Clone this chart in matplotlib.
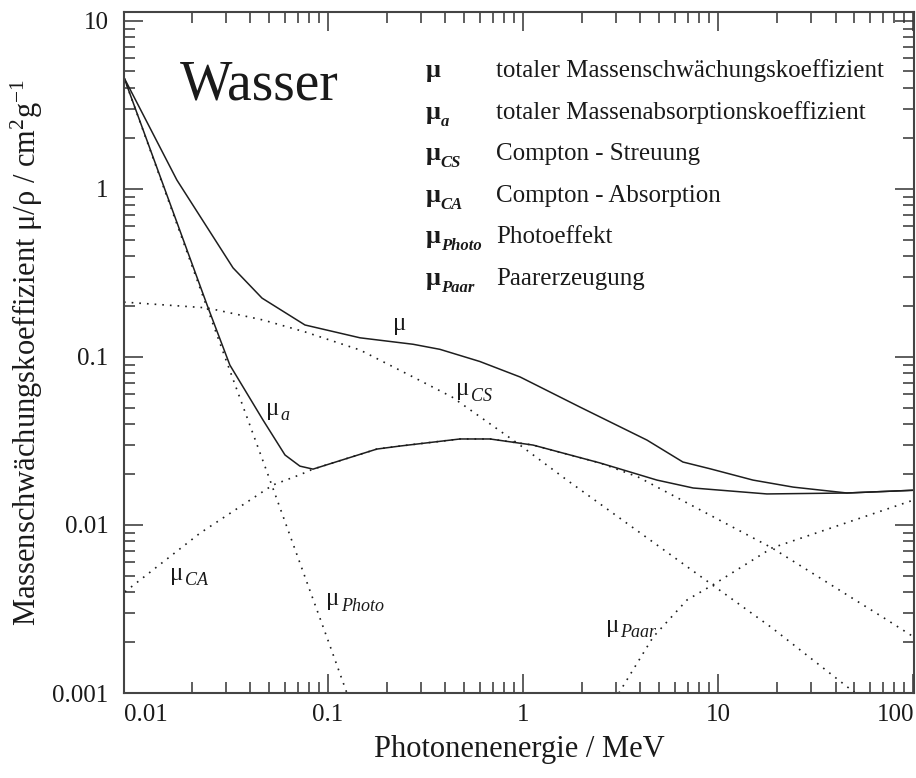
import numpy as np
import matplotlib
matplotlib.use("Agg")
import matplotlib.pyplot as plt
import matplotlib.transforms as mtrans
from matplotlib.ticker import FixedLocator, LogLocator, NullFormatter

plt.rcParams['font.family'] = ['Liberation Serif', 'DejaVu Serif']
plt.rcParams['mathtext.fontset'] = 'custom'
plt.rcParams['mathtext.rm'] = 'Liberation Serif'
plt.rcParams['mathtext.it'] = 'Liberation Serif:italic'
plt.rcParams['mathtext.bf'] = 'Liberation Serif:bold'
plt.rcParams['mathtext.default'] = 'rm'

# ---------------- data ----------------
E_mu = [0.009, 0.0168, 0.0326, 0.0459, 0.0762, 0.146, 0.273, 0.375, 0.6, 0.966,
        1.96, 4.32, 6.6, 9.1, 15.1, 24.3, 45.8, 101]
mu_total = [4.6, 1.13, 0.339, 0.224, 0.155, 0.130, 0.119, 0.111, 0.094, 0.076,
            0.0503, 0.032, 0.0237, 0.0216, 0.0185, 0.0168, 0.0155, 0.0161]

E_a = [0.009, 0.0243, 0.0314, 0.0464, 0.0602, 0.0718, 0.0838, 0.178, 0.234, 0.475,
       0.677, 1.125, 2.48, 4.86, 7.45, 17.8, 45.8, 101]
mu_a = [4.6, 0.196, 0.0895, 0.0422, 0.0261, 0.0224, 0.0215, 0.0283, 0.0295, 0.0325,
        0.0325, 0.0299, 0.0234, 0.0185, 0.0166, 0.0153, 0.0155, 0.0161]

E_cs = [0.009, 0.0239, 0.0464, 0.0762, 0.146, 0.273, 0.432, 0.931, 1.68, 18.9, 50.4]
mu_cs = [0.212, 0.196, 0.166, 0.141, 0.110, 0.076, 0.0578, 0.0308, 0.0185, 0.00244, 0.001]

E_ca = [0.0091, 0.0221, 0.0522, 0.0718, 0.0838, 0.178, 0.234, 0.475, 0.677, 1.125,
        2.48, 3.89, 18.9, 73.6, 101]
mu_ca = [0.0040, 0.00895, 0.0173, 0.0199, 0.0215, 0.0283, 0.0295, 0.0325, 0.0325, 0.0299,
         0.0234, 0.0193, 0.0073, 0.00272, 0.00215]

E_photo = [0.009, 0.02, 0.03, 0.05, 0.08, 0.1, 0.125]
mu_photo = [4.6, 0.353, 0.096, 0.019, 0.0042, 0.00206, 0.001]

E_paar = [3.1, 4.64, 6.93, 9.4, 18.9, 101]
mu_paar = [0.001, 0.00215, 0.00358, 0.0044, 0.0073, 0.0141]

x_ticks = [0.01, 0.1, 1, 10, 100]
x_ticklabels = ['0.01', '0.1', '1', '10', '100']
y_ticks = [0.001, 0.01, 0.1, 1, 10]
y_ticklabels = ['0.001', '0.01', '0.1', '1', '10']

legend_symbols = ['', 'a', 'CS', 'CA', 'Photo', 'Paar']
legend_texts = ['totaler Massenschwächungskoeffizient',
                'totaler Massenabsorptionskoeffizient',
                'Compton - Streuung',
                'Compton - Absorption',
                'Photoeffekt',
                'Paarerzeugung']

# curve labels: (subscript, E, value) at left/baseline of the mu glyph
curve_labels = [('', 0.2155, 0.1449), ('CS', 0.453, 0.0594), ('a', 0.0481, 0.0452),
                ('CA', 0.01549, 0.00471), ('Photo', 0.0977, 0.00334),
                ('Paar', 2.66, 0.00231)]

# ---------------- figure ----------------
W, H = 916, 778
fig = plt.figure(figsize=(W / 100, H / 100), dpi=100)
L, R, T, B = 124, 914, 12, 693
ax = fig.add_axes([L / W, 1 - B / H, (R - L) / W, (B - T) / H])

xmin, xmax = 0.009, 101
ymin, ymax = 0.001, 11.3
ax.set_xscale('log')
ax.set_yscale('log')
ax.set_xlim(xmin, xmax)
ax.set_ylim(ymin, ymax)

lc = '#1e1e1e'
dot = (0, (1, 3.6))
ax.plot(E_mu, mu_total, color=lc, lw=1.1)
ax.plot(E_a, mu_a, color=lc, lw=1.1)
ax.plot(E_cs, mu_cs, color=lc, lw=1.2, linestyle=dot)
ax.plot(E_ca, mu_ca, color=lc, lw=1.2, linestyle=dot)
ax.plot(E_photo, mu_photo, color=lc, lw=1.2, linestyle=dot)
ax.plot(E_paar, mu_paar, color=lc, lw=1.2, linestyle=dot)

# ticks
ax.xaxis.set_major_locator(FixedLocator(x_ticks))
ax.set_xticklabels(x_ticklabels)
ax.yaxis.set_major_locator(FixedLocator(y_ticks))
ax.set_yticklabels(y_ticklabels)
ax.xaxis.set_minor_locator(LogLocator(base=10, subs=np.arange(2, 10), numticks=20))
ax.yaxis.set_minor_locator(LogLocator(base=10, subs=np.arange(2, 10), numticks=20))
ax.xaxis.set_minor_formatter(NullFormatter())
ax.yaxis.set_minor_formatter(NullFormatter())
ax.tick_params(which='both', direction='in', top=True, right=True,
               color='#333333', width=1.1, labelsize=18, labelcolor='#1a1a1a')
ax.tick_params(which='major', length=14)
ax.tick_params(which='minor', length=8)
ax.tick_params(axis='x', which='major', pad=8)
ax.tick_params(axis='y', which='major', pad=11)
for s in ax.spines.values():
    s.set_linewidth(1.5)
    s.set_color('#444444')

# the reference draws no tick mark at 0.01 on the x axis (label only)
xt = ax.xaxis.get_major_ticks()
xt[0].tick1line.set_visible(False)
xt[0].tick2line.set_visible(False)

# keep end labels inside the axes extent
lx = np.log10(xmin); rx = np.log10(xmax)
ppx = (R - L) / (rx - lx)
for lbl in ax.get_xticklabels():
    if lbl.get_text() == '0.01':
        lbl.set_ha('left')
        dx = -(np.log10(0.01) - lx) * ppx
        lbl.set_transform(lbl.get_transform() + mtrans.ScaledTranslation(dx / 100, 0, fig.dpi_scale_trans))
    if lbl.get_text() == '100':
        lbl.set_ha('right')
        dx = (rx - 2) * ppx
        lbl.set_transform(lbl.get_transform() + mtrans.ScaledTranslation(dx / 100, 0, fig.dpi_scale_trans))

# axis labels
ax.set_xlabel('Photonenenergie / MeV', fontsize=22, color='#1a1a1a')
ax.set_ylabel('Massenschwächungskoeffizient μ/ρ / cm$^{2}$g$^{-1}$', fontsize=22, color='#1a1a1a')
ax.xaxis.set_label_coords(0.5, -0.062)
ax.yaxis.set_label_coords(-0.10, 0.5)

# title-like text
ax.text(0.0709, 0.8708, 'Wasser', transform=ax.transAxes, fontsize=40,
        ha='left', va='baseline', color='#1a1a1a')

# legend block
leg_x_mu = (426 - L) / (R - L)
leg_x_txt = (496 - L) / (R - L)
leg_rows = [77, 118.6, 160, 202, 243, 285]
for sym, txt, py in zip(legend_symbols, legend_texts, leg_rows):
    ya = (B - py) / (B - T)
    ax.text(leg_x_mu, ya, 'μ', transform=ax.transAxes, fontsize=19, fontweight='bold',
            ha='left', va='baseline', color='#1a1a1a')
    if sym:
        ax.annotate(sym, xy=(leg_x_mu, ya), xycoords='axes fraction',
                    xytext=(10.5, -5), textcoords='offset points', fontsize=12,
                    fontweight='bold', fontstyle='italic', ha='left', va='baseline',
                    color='#1a1a1a')
    ax.text(leg_x_txt, ya, txt, transform=ax.transAxes, fontsize=18,
            ha='left', va='baseline', color='#1a1a1a')

# curve labels
for sub, ex, vy in curve_labels:
    ax.text(ex, vy, 'μ', fontsize=18, ha='left', va='baseline', color='#1a1a1a')
    if sub:
        ax.annotate(sub, xy=(ex, vy), xycoords='data', xytext=(10.5, -4),
                    textcoords='offset points', fontsize=13, fontstyle='italic',
                    ha='left', va='baseline', color='#1a1a1a')

fig.savefig('out.png', dpi=100)
